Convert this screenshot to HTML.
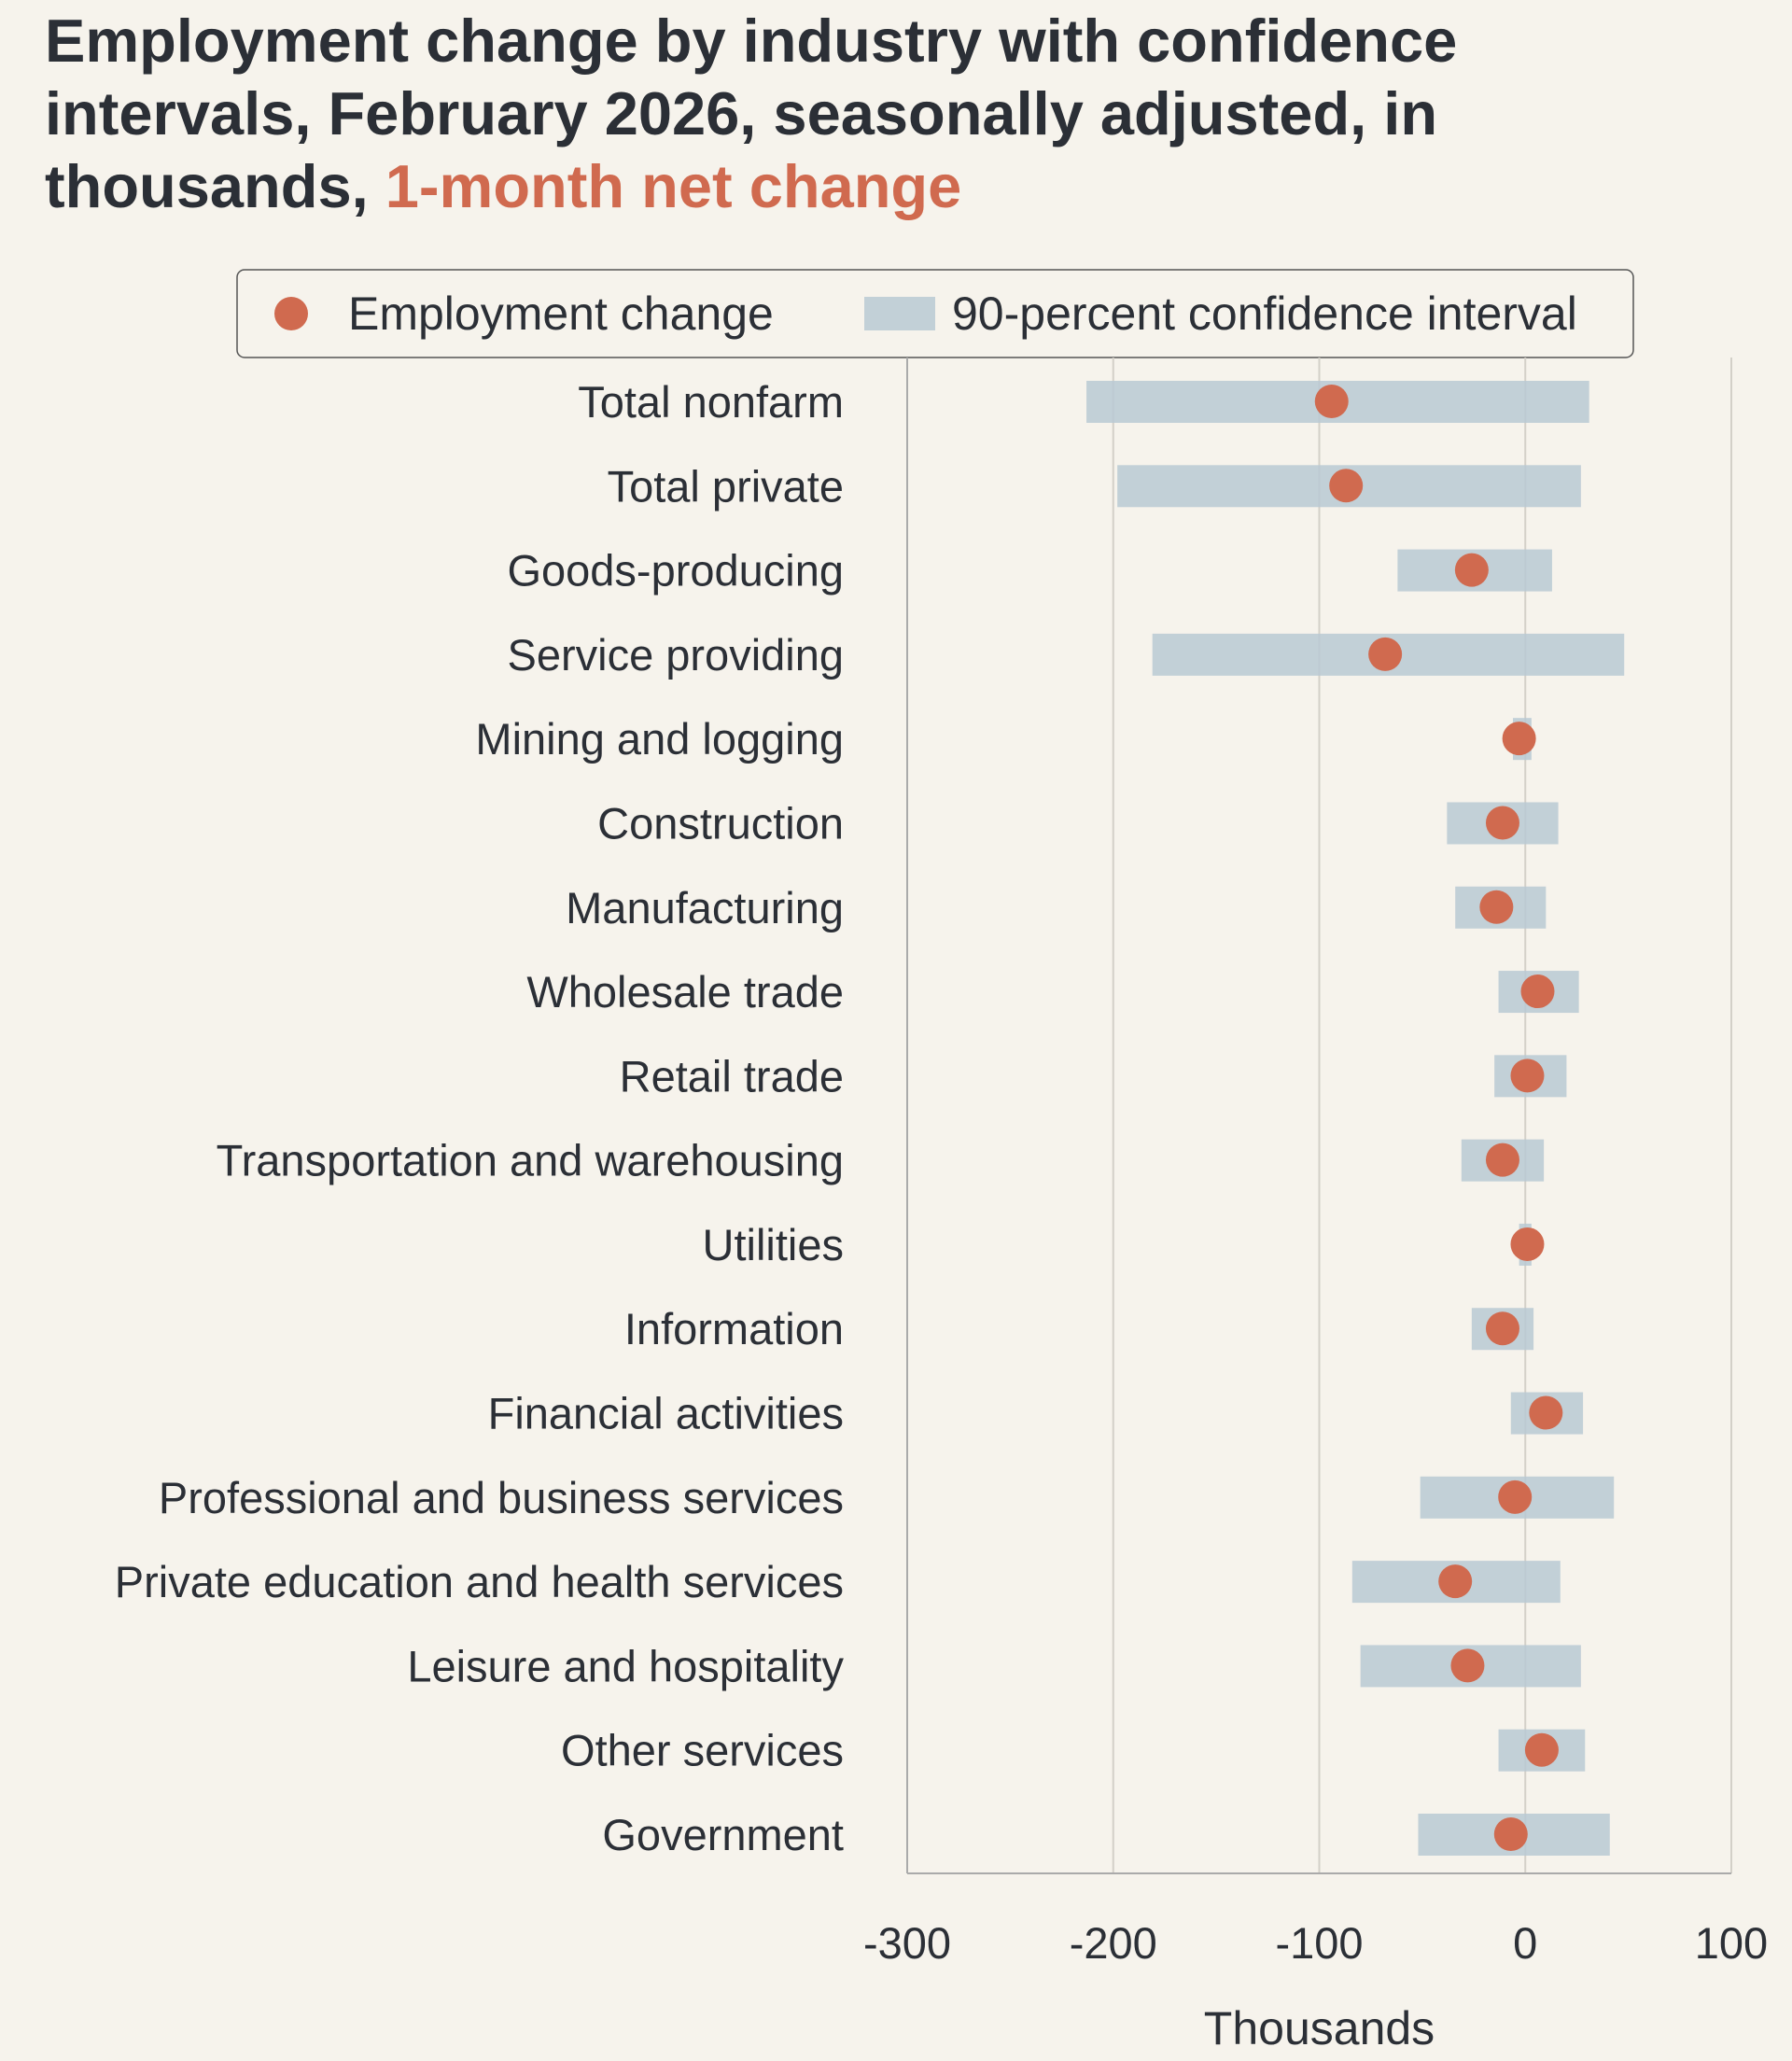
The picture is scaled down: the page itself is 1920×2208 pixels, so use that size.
<!DOCTYPE html>
<html><head><meta charset="utf-8"><style>
html,body{margin:0;padding:0;background:#f6f3ec;}
svg{display:block;font-family:"Liberation Sans",sans-serif;}
</style></head><body>
<svg id="chart" width="1920" height="2208" viewBox="0 0 1920 2208" xmlns="http://www.w3.org/2000/svg">
<rect width="1920" height="2208" fill="#f6f3ec"/>
<g font-weight="bold" font-size="65" fill="#2b2f36">
<text x="48" y="66">Employment change by industry with confidence</text>
<text x="48" y="144">intervals, February 2026, seasonally adjusted, in</text>
<text x="48" y="222">thousands, <tspan fill="#d06a4f">1-month net change</tspan></text>
</g>
<g>
<rect x="254" y="289" width="1496" height="94" rx="8" fill="none" stroke="#555" stroke-width="1.5"/>
<circle cx="312" cy="336" r="18" fill="#d06a4f"/>
<text x="373" y="353" font-size="50" fill="#2b2f36">Employment change</text>
<rect x="926" y="318" width="76" height="36" fill="#b8c9d4" opacity="0.85"/>
<text x="1020" y="353" font-size="50" fill="#2b2f36">90-percent confidence interval</text>
</g>
<g id="plot"></g>
</svg>
<script>
const categories=["Total nonfarm","Total private","Goods-producing","Service providing","Mining and logging","Construction","Manufacturing","Wholesale trade","Retail trade","Transportation and warehousing","Utilities","Information","Financial activities","Professional and business services","Private education and health services","Leisure and hospitality","Other services","Government"];
const changeValues=[-94,-87,-26,-68,-3,-11,-14,6,1,-11,1,-11,10,-5,-34,-28,8,-7];
const ciLow=[-213,-198,-62,-181,-6,-38,-34,-13,-15,-31,-3,-26,-7,-51,-84,-80,-13,-52];
const ciHigh=[31,27,13,48,3,16,10,26,20,9,3,4,28,43,17,27,29,41];
const xTicks=[-300,-200,-100,0,100];
const tickLabels=["-300","-200","-100","0","100"];

const NS="http://www.w3.org/2000/svg";
const plot=document.getElementById('plot');
const L=972,R=1855,T=383,B=2007,xMin=-300,xMax=100;
const x=v=>L+(v-xMin)/(xMax-xMin)*(R-L);
const firstY=430,lastY=1965;
const y=i=>firstY+i*(lastY-firstY)/(categories.length-1);
function mk(tag,attrs){const e=document.createElementNS(NS,tag);for(const k in attrs)e.setAttribute(k,attrs[k]);plot.appendChild(e);return e;}

xTicks.forEach((t,i)=>{
  if(i>0){const g=mk('line',{x1:x(t),x2:x(t),y1:T,y2:B,stroke:'#d3d0c8','stroke-width':2});
  
  }
  const tl=mk('text',{x:x(t),y:2098,'text-anchor':'middle','font-size':47,fill:'#2b2f36'});
  tl.textContent=tickLabels[i];
  
  
});
const ax=mk('line',{x1:L,x2:L,y1:T,y2:B,stroke:'#aaa','stroke-width':2});


const bx=mk('line',{x1:L,x2:R,y1:B,y2:B,stroke:'#aaa','stroke-width':2});



categories.forEach((c,i)=>{
  const lab=mk('text',{x:904,y:y(i)+17,'text-anchor':'end','font-size':47,fill:'#2b2f36'});
  lab.textContent=c;
  
  
  const bar=mk('rect',{x:x(ciLow[i]),y:y(i)-22,width:x(ciHigh[i])-x(ciLow[i]),height:45,fill:'#b8c9d4',opacity:0.85});
  
  
});
categories.forEach((c,i)=>{
  const d=mk('circle',{cx:x(changeValues[i]),cy:y(i),r:18,fill:'#d06a4f'});
  
  
});
const xt=mk('text',{x:(L+R)/2,y:2190,'text-anchor':'middle','font-size':50,fill:'#2b2f36'});
xt.textContent='Thousands';


</script>
</body></html>
